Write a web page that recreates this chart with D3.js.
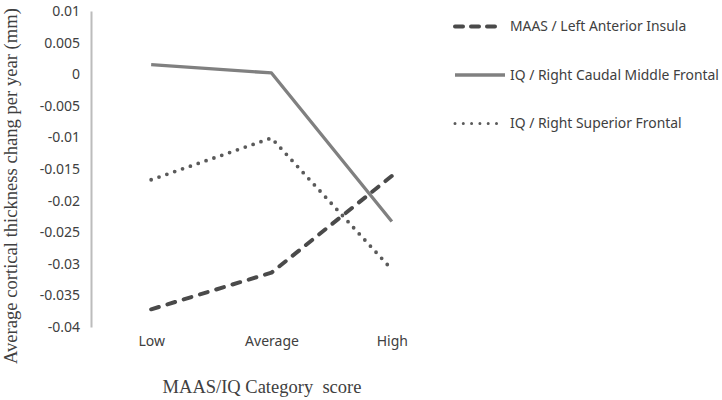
<!DOCTYPE html>
<html>
<head>
<meta charset="utf-8">
<script src="https://cdn.jsdelivr.net/npm/d3@7"></script>
<style>
  body { margin: 0; background: #fff; }
  svg text { fill: #404040; }
</style>
</head>
<body>
<div id="wrapper"></div>
<script>
const categories = ["Low", "Average", "High"];
const seriesNames = [
  "MAAS / Left Anterior Insula",
  "IQ / Right Caudal Middle Frontal",
  "IQ / Right Superior Frontal",
];
const maasInsula = [-0.0372, -0.0314, -0.0161];
const iqCaudal = [0.0015, 0.0002, -0.0233];
const iqSuperior = [-0.0167, -0.0101, -0.0309];
const yTicks = [0.01, 0.005, 0, -0.005, -0.01, -0.015, -0.02, -0.025, -0.03, -0.035, -0.04];

const width = 722;
const height = 400;

const svg = d3
  .select("#wrapper")
  .append("svg")
  .attr("width", width)
  .attr("height", height);

const x = d3.scalePoint().domain(categories).range([91, 452]).padding(0.5);
const y = d3.scaleLinear().domain([-0.04, 0.01]).range([327, 11]);

// line styles per series
const styles = [
  { color: "#4a4a4a", width: 4, dash: "8 9", cap: "round" },
  { color: "#808080", width: 3.3, dash: null, cap: "butt" },
  { color: "#5a5a5a", width: 3.8, dash: "0 8.3", cap: "round" },
];
const series = [maasInsula, iqCaudal, iqSuperior];

// y axis
const yAxis = svg
  .append("g")
  .attr("transform", "translate(91,0)")
  .call(
    d3.axisLeft(y)
      .tickValues(yTicks)
      .tickSize(0)
      .tickPadding(11)
      .tickFormat((d) => String(d))
  );
yAxis.select(".domain").attr("stroke", "#bcbcbc").attr("stroke-width", 2);
yAxis
  .selectAll("text")
  .attr("font-family", "'Noto Sans', 'Open Sans', sans-serif")
  .attr("font-size", 14)
  .attr("fill", "#404040");

// x axis (labels only)
const xAxis = svg
  .append("g")
  .attr("transform", "translate(0,328)")
  .call(d3.axisBottom(x).tickSize(0).tickPadding(8));
xAxis.select(".domain").remove();
xAxis
  .selectAll("text")
  .attr("font-family", "'Noto Sans', 'Open Sans', sans-serif")
  .attr("font-size", 14)
  .attr("fill", "#404040");

// lines
const line = d3
  .line()
  .x((d, i) => x(categories[i]))
  .y((d) => y(d));

series.forEach((s, i) => {
  svg
    .append("path")
    .datum(s)
    .attr("d", line)
    .attr("fill", "none")
    .attr("stroke", styles[i].color)
    .attr("stroke-width", styles[i].width)
    .attr("stroke-linecap", styles[i].cap)
    .attr("stroke-linejoin", "round")
    .attr("stroke-dasharray", styles[i].dash);
});

// titles
svg
  .append("text")
  .attr("transform", "translate(17,364) rotate(-90)")
  .attr("font-family", "'Liberation Serif', 'Times New Roman', serif")
  .attr("font-size", 18.6)
  .text("Average cortical thickness chang per year (mm)");

svg
  .append("text")
  .attr("x", 262)
  .attr("y", 393)
  .attr("text-anchor", "middle")
  .attr("font-family", "'Liberation Serif', 'Times New Roman', serif")
  .attr("font-size", 18.5)
  .style("white-space", "pre")
  .text("MAAS/IQ Category  score");

// legend
const legend = svg
  .append("g")
  .selectAll("g")
  .data(seriesNames)
  .join("g")
  .attr("transform", (d, i) => `translate(455, ${26.5 + 48.5 * i})`);

legend
  .append("line")
  .attr("x1", 0)
  .attr("x2", (d, i) => (i == 1 ? 50 : 47))
  .attr("stroke", (d, i) => styles[i].color)
  .attr("stroke-width", (d, i) => (i == 2 ? 3 : styles[i].width))
  .attr("stroke-linecap", (d, i) => styles[i].cap)
  .attr("stroke-dasharray", (d, i) => (i == 0 ? "8 8" : styles[i].dash));

legend
  .append("text")
  .attr("x", 55)
  .attr("dy", "0.35em")
  .attr("font-family", "'Noto Sans', 'Open Sans', sans-serif")
  .attr("font-size", 13.9)
  .attr("fill", "#404040")
  .text((d) => d);
</script>
</body>
</html>
